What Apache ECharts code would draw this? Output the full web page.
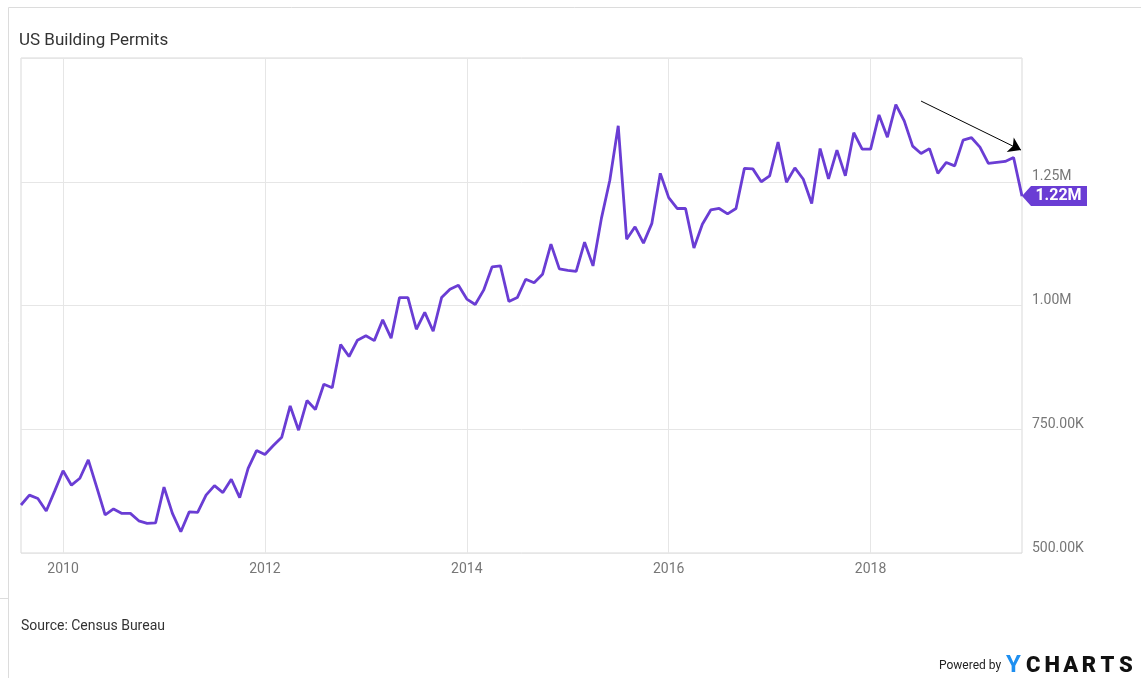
<!DOCTYPE html>
<html>
<head>
<meta charset="utf-8">
<script src="https://cdn.jsdelivr.net/npm/echarts@6/dist/echarts.min.js"></script>
<style>
  html, body { margin: 0; padding: 0; background: #fff; }
  #chart { width: 1141px; height: 678px; }
</style>
</head>
<body>
<div id="chart"></div>
<script>
// ---- Data (monthly, seasonally adjusted annual rate) ----
const startYear = 2009;
const startMonth = 7; // July 2009, month-end
const permits = [
  597, 617, 610, 585, 625, 666,                          // 2009 Jul-Dec
  637, 651, 688, 633, 577, 589, 580, 580, 565, 560, 561, 633,   // 2010
  580, 543, 583, 582, 617, 636, 622, 649, 612, 671, 707, 699,   // 2011
  717, 734, 797, 748, 808, 790, 841, 834, 921, 897, 930, 939,   // 2012
  929, 971, 934, 1016, 1016, 952, 986, 948, 1016, 1033, 1041, 1013, // 2013
  1002, 1031, 1078, 1080, 1008, 1016, 1053, 1046, 1063, 1124, 1074, 1071, // 2014
  1069, 1128, 1080, 1176, 1253, 1363, 1134, 1159, 1126, 1166, 1267, 1218, // 2015
  1196, 1196, 1116, 1164, 1193, 1196, 1185, 1196, 1277, 1276, 1250, 1262, // 2016
  1330, 1249, 1278, 1255, 1206, 1317, 1256, 1314, 1262, 1349, 1316, 1316, // 2017
  1385, 1340, 1406, 1373, 1322, 1307, 1317, 1267, 1289, 1282, 1334, 1339, // 2018
  1320, 1287, 1289, 1291, 1299, 1221                       // 2019 Jan-Jun
];
const yearTicks = [2010, 2012, 2014, 2016, 2018];
const yTickValues = [500000, 750000, 1000000, 1250000];
const yTickLabels = ['500.00K', '750.00K', '1.00M', '1.25M'];
const titleText = 'US Building Permits';
const sourceText = 'Source: Census Bureau';

// ---- Build series (x = fractional year at month end) ----
const seriesData = permits.map((v, i) => {
  const m = startMonth + i;
  return [startYear + m / 12, v * 1000];
});
const xMin = seriesData[0][0];
const xMax = seriesData[seriesData.length - 1][0];
const last = seriesData[seriesData.length - 1];

// arrow annotation (data space)
const arrowFrom = [2018.5, 1413000];
const arrowTo = [2019.49, 1314000];

const purple = '#6a3dd4';
const font = 'Roboto, "Noto Sans", sans-serif';

function fmtTag(v) {
  return (v / 1e6).toFixed(2) + 'M';
}

const chart = echarts.init(document.getElementById('chart'), null, { renderer: 'canvas' });

const logoLetters = ['C', 'H', 'A', 'R', 'T', 'S'];
const graphics = [
  { type: 'line', shape: { x1: 8.5, y1: 7.5, x2: 1141, y2: 7.5 }, style: { stroke: '#dcdcdc', lineWidth: 1 }, silent: true },
  { type: 'line', shape: { x1: 8.5, y1: 7.5, x2: 8.5, y2: 678 }, style: { stroke: '#dcdcdc', lineWidth: 1 }, silent: true },
  { type: 'line', shape: { x1: 0, y1: 598.5, x2: 8, y2: 598.5 }, style: { stroke: '#dcdcdc', lineWidth: 1 }, silent: true },
  { type: 'text', left: 21, top: 619, style: { text: sourceText, font: '14px ' + font, fill: '#333' } },
  { type: 'text', left: 939, top: 660, style: { text: 'Powered by', font: '12px ' + font, fill: '#222' } },
  { type: 'text', left: 1006, top: 654, style: { text: 'Y', font: 'bold 24px ' + font, fill: '#1e8ff0' } }
];
logoLetters.forEach((ch, i) => {
  graphics.push({ type: 'text', left: 1026 + i * 18.6, top: 655, style: { text: ch, font: '900 22px ' + font, fill: '#111' } });
});

chart.setOption({
  animation: false,
  backgroundColor: '#fff',
  title: {
    text: titleText,
    left: 19,
    top: 32,
    padding: 0,
    textStyle: { fontFamily: font, fontSize: 17, fontWeight: 'normal', color: '#333' }
  },
  grid: {
    left: 21, right: 119, top: 58, bottom: 125,
    show: true, borderColor: '#d9d9d9', borderWidth: 1, backgroundColor: 'transparent'
  },
  xAxis: {
    type: 'value',
    min: xMin,
    max: xMax,
    axisLine: { show: false },
    axisTick: { show: false, customValues: yearTicks },
    axisLabel: {
      customValues: yearTicks,
      formatter: v => String(Math.round(v)),
      color: '#777', fontFamily: font, fontSize: 14, margin: 9
    },
    splitLine: { show: true, lineStyle: { color: '#e6e6e6', width: 1 } }
  },
  yAxis: {
    type: 'value',
    position: 'right',
    min: 500000,
    max: 1500000,
    interval: 250000,
    axisLine: { show: false },
    axisTick: { show: false },
    axisLabel: {
      formatter: v => {
        const idx = yTickValues.indexOf(v);
        return idx >= 0 ? yTickLabels[idx] : '';
      },
      color: '#777', fontFamily: font, fontSize: 14, margin: 10,
      verticalAlign: 'bottom', padding: [0, 0, -2, 0]
    },
    splitLine: { show: true, lineStyle: { color: '#e6e6e6', width: 1 } }
  },
  series: [{
    type: 'line',
    data: seriesData,
    showSymbol: false,
    symbol: 'none',
    lineStyle: { color: purple, width: 2.8 },
    itemStyle: { color: purple },
    markLine: {
      silent: true,
      symbol: ['none', 'arrow'],
      symbolSize: 12,
      label: { show: false },
      lineStyle: { color: '#000', width: 1, type: 'solid' },
      data: [[{ coord: arrowFrom }, { coord: arrowTo }]]
    },
    markPoint: {
      silent: true,
      symbol: 'path://M0,10L9,0L65,0L65,20L9,20Z',
      symbolSize: [65, 20],
      symbolOffset: [32.5, 0],
      itemStyle: { color: purple },
      label: {
        show: true,
        position: 'inside',
        offset: [4, 0],
        formatter: p => fmtTag(p.value),
        color: '#fff', fontFamily: font, fontSize: 16, fontWeight: 'bold'
      },
      data: [{ coord: last, value: last[1] }]
    }
  }],
  graphic: graphics
});
</script>
</body>
</html>
